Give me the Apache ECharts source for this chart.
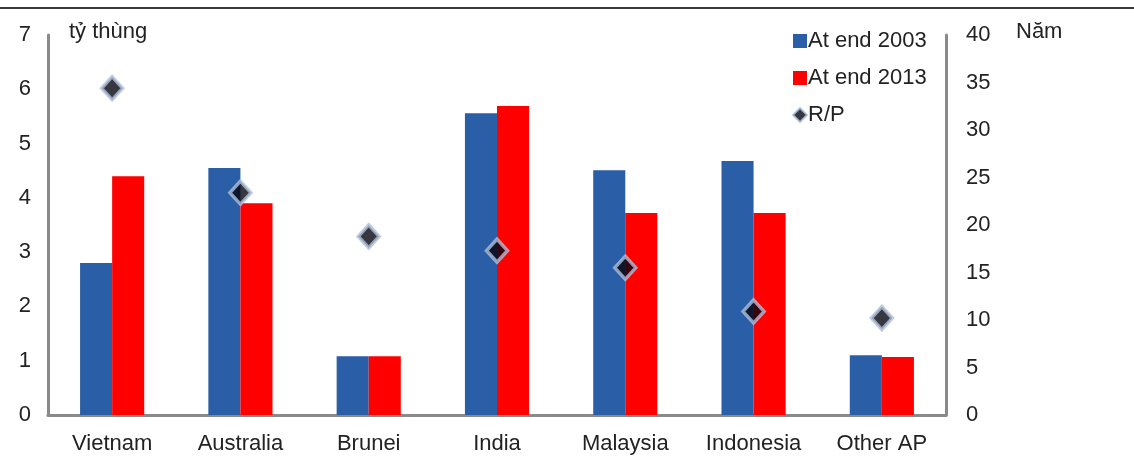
<!DOCTYPE html>
<html>
<head>
<meta charset="utf-8">
<script src="https://cdn.jsdelivr.net/npm/echarts@6/dist/echarts.min.js"></script>
<style>
  html, body { margin: 0; padding: 0; background: #fff; }
  #chart { width: 1134px; height: 457px; }
</style>
</head>
<body>
<div id="chart"></div>
<script>
// Reserves (billion barrels) and reserves-to-production ratio (years)
const categories = ['Vietnam', 'Australia', 'Brunei', 'India', 'Malaysia', 'Indonesia', 'Other AP'];
const reserves2003 = [2.8, 4.55, 1.08, 5.56, 4.51, 4.68, 1.1];
const reserves2013 = [4.4, 3.9, 1.08, 5.69, 3.72, 3.72, 1.07];
const rpYears = [34.4, 23.4, 18.8, 17.3, 15.5, 10.9, 10.2];

const FONT = 'Liberation Sans, Arial, sans-serif';
const FS = 22;
const TEXT = '#222';
const AXIS = '#8a8a8a';

const chart = echarts.init(document.getElementById('chart'));
chart.setOption({
  animation: false,
  textStyle: { fontFamily: FONT },
  grid: { left: 48, right: 188, top: 35, bottom: 42 },
  legend: {
    orient: 'vertical',
    left: 787,
    top: 25,
    itemWidth: 14,
    itemHeight: 14,
    itemGap: 15,
    textStyle: { fontFamily: FONT, fontSize: FS, color: TEXT, padding: [0, 0, 0, -4] },
    data: [
      { name: 'At end 2003', icon: 'rect' },
      { name: 'At end 2013', icon: 'rect' },
      { name: 'R/P', icon: 'diamond' }
    ]
  },
  xAxis: {
    type: 'category',
    data: categories,
    axisLine: { show: true, lineStyle: { color: AXIS, width: 3 } },
    axisTick: { show: false },
    axisLabel: { color: TEXT, fontSize: FS, margin: 18, fontFamily: FONT, interval: 0 }
  },
  yAxis: [
    {
      type: 'value', min: 0, max: 7, interval: 1,
      axisLine: { show: true, lineStyle: { color: AXIS, width: 3 } },
      axisTick: { show: false },
      splitLine: { show: false },
      axisLabel: { color: TEXT, fontSize: FS, margin: 17, fontFamily: FONT }
    },
    {
      type: 'value', min: 0, max: 40, interval: 5,
      axisLine: { show: true, lineStyle: { color: AXIS, width: 3 } },
      axisTick: { show: false },
      splitLine: { show: false },
      axisLabel: { color: TEXT, fontSize: FS, margin: 20, fontFamily: FONT }
    }
  ],
  series: [
    {
      name: 'At end 2003', type: 'bar', data: reserves2003,
      barWidth: '25%', barGap: '0%', barCategoryGap: '50%',
      itemStyle: { color: '#2a5ea6' }
    },
    {
      name: 'At end 2013', type: 'bar', data: reserves2013,
      barWidth: '25%', barGap: '0%',
      itemStyle: { color: '#ff0000' }
    },
    {
      name: 'R/P', type: 'scatter', yAxisIndex: 1, data: rpYears,
      symbol: 'diamond', symbolSize: [21, 23],
      itemStyle: { color: '#050510', borderColor: '#b0bfda', borderWidth: 3.5 },
      z: 5
    }
  ],
  graphic: [
    {
      type: 'line', shape: { x1: 0, y1: 8, x2: 1134, y2: 8 },
      style: { stroke: '#3a3a3a', lineWidth: 2 }
    },
    {
      type: 'text', left: 69, top: 21,
      style: { text: 'tỷ thùng', font: FS + 'px ' + FONT, fill: TEXT }
    },
    {
      type: 'text', left: 1016, top: 21,
      style: { text: 'Năm', font: FS + 'px ' + FONT, fill: TEXT }
    }
  ]
});
</script>
</body>
</html>
